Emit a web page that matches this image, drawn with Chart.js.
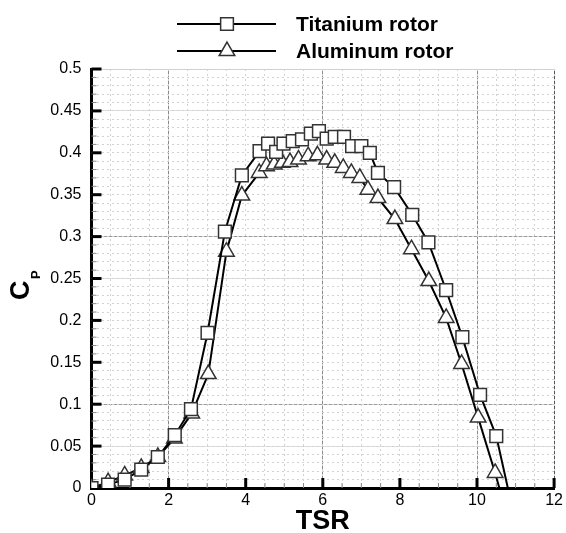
<!DOCTYPE html>
<html lang="en">
<head>
    <meta charset="UTF-8">
    <title>Cp vs TSR</title>
    <script src="https://cdn.jsdelivr.net/npm/chart.js"></script>
    <style>
        body {
            margin: 0;
            background-color: #fff;
        }

        .chart-container {
            width: 566px;
            height: 533px;
            position: relative;
        }
    </style>
</head>
<body>
    <div class="chart-container">
        <canvas id="cpChart"></canvas>
    </div>

    <script>
        const seriesNames = ['Titanium rotor', 'Aluminum rotor'];

        const tsrTitanium = [0, 0.43, 0.86, 1.29, 1.72, 2.16, 2.58, 3.01, 3.46, 3.9, 4.36, 4.58, 4.79, 4.98, 5.22, 5.46, 5.69, 5.9, 6.1, 6.31, 6.55, 6.76, 7.0, 7.22, 7.43, 7.85, 8.32, 8.74, 9.2, 9.62, 10.08, 10.5, 10.8];
        const cpTitanium = [0, 0.004, 0.01, 0.022, 0.037, 0.063, 0.094, 0.185, 0.306, 0.373, 0.402, 0.411, 0.401, 0.411, 0.414, 0.416, 0.423, 0.426, 0.417, 0.419, 0.419, 0.408, 0.408, 0.4, 0.376, 0.359, 0.326, 0.293, 0.236, 0.18, 0.111, 0.062, 0];

        const tsrAluminum = [0, 0.43, 0.86, 1.29, 1.72, 2.15, 2.6, 3.03, 3.5, 3.9, 4.35, 4.54, 4.74, 4.95, 5.15, 5.37, 5.62, 5.86, 6.1, 6.31, 6.53, 6.74, 6.96, 7.17, 7.43, 7.87, 8.3, 8.75, 9.2, 9.6, 10.03, 10.47, 10.58];
        const cpAluminum = [0, 0.007, 0.015, 0.024, 0.037, 0.059, 0.089, 0.136, 0.282, 0.349, 0.376, 0.384, 0.386, 0.388, 0.389, 0.392, 0.396, 0.397, 0.392, 0.388, 0.382, 0.376, 0.37, 0.356, 0.346, 0.321, 0.285, 0.247, 0.203, 0.148, 0.084, 0.018, 0];

        const xTickValues = [0, 2, 4, 6, 8, 10, 12];
        const yTickValues = [0, 0.05, 0.1, 0.15, 0.2, 0.25, 0.3, 0.35, 0.4, 0.45, 0.5];

        const FONT = "'Liberation Sans', Arial, Helvetica, sans-serif";
        const pointStyles = ['rect', 'triangle'];

        // the last point of each curve is only where the line meets the axis, no marker there
        const radii = arr => arr.map((_, i) => i === arr.length - 1 ? 0 : 9);

        const datasets = [
            [tsrTitanium, cpTitanium],
            [tsrAluminum, cpAluminum]
        ].map(([xs, ys], i) => ({
            label: seriesNames[i],
            data: xs.map((x, j) => ({ x: x, y: ys[j] })),
            borderColor: '#000',
            borderWidth: 2,
            pointStyle: pointStyles[i],
            pointRadius: radii(xs),
            pointBackgroundColor: '#fff',
            pointBorderColor: '#333',
            pointBorderWidth: 1.5,
            tension: 0
        }));

        // solid grid lines as they show in the picture
        function xGridColor(ctx) {
            const v = Math.round(ctx.tick.value);
            if (v === 12) return '#555';
            if (v % 4 === 2) return '#8a8a8a';
            return 'rgba(0,0,0,0)';
        }
        function yGridColor(ctx) {
            const v = Math.round(ctx.tick.value * 100);
            if (v === 10 || v === 30) return '#9a9a9a';
            if (v === 50) return '#cfcfcf';
            if (v === 5 || v === 25 || v === 45) return '#dedede';
            return 'rgba(0,0,0,0)';
        }

        const minorScale = (axis, pos, max, step) => ({
            type: 'linear',
            axis: axis,
            position: pos,
            min: 0,
            max: max,
            ticks: { display: false, stepSize: step },
            grid: { color: '#d2d2d2', lineWidth: 1, drawTicks: false, z: -1 },
            border: { display: false, dash: [2, 3] },
            afterFit: s => { if (axis === 'x') s.height = 0; else s.width = 0; }
        });

        // inward ticks, legend and the C_P label
        const decor = {
            id: 'decor',
            beforeDatasetsDraw(chart) {
                const { ctx, chartArea: a, scales } = chart;
                const seg = (x1, y1, x2, y2) => { ctx.beginPath(); ctx.moveTo(x1, y1); ctx.lineTo(x2, y2); ctx.stroke(); };
                ctx.save();
                ctx.strokeStyle = '#888';
                ctx.lineWidth = 1;
                scales.xMinor.ticks.forEach(t => {
                    const px = scales.x.getPixelForValue(t.value);
                    seg(px, a.bottom, px, a.bottom - 5);
                });
                scales.yMinor.ticks.forEach(t => {
                    const py = scales.y.getPixelForValue(t.value);
                    seg(a.left, py, a.left + 5, py);
                });
                ctx.strokeStyle = '#000';
                ctx.lineWidth = 3;
                xTickValues.forEach(v => {
                    const px = scales.x.getPixelForValue(v);
                    seg(px, a.bottom, px, a.bottom - 10);
                });
                yTickValues.forEach(v => {
                    const py = scales.y.getPixelForValue(v);
                    seg(a.left, py, a.left + 10, py);
                });
                ctx.restore();
            },
            afterDraw(chart) {
                const ctx = chart.ctx;
                ctx.save();
                // legend
                const rows = [24, 51];
                chart.data.datasets.forEach((ds, i) => {
                    const y = rows[i];
                    ctx.strokeStyle = '#000';
                    ctx.lineWidth = 2;
                    ctx.beginPath();
                    ctx.moveTo(177, y);
                    ctx.lineTo(276, y);
                    ctx.stroke();
                    ctx.fillStyle = '#fff';
                    ctx.strokeStyle = '#333';
                    ctx.lineWidth = 1.5;
                    Chart.helpers.drawPoint(ctx, { pointStyle: ds.pointStyle, radius: 9, borderWidth: 1.5, rotation: 0 }, 227, y);
                    ctx.fillStyle = '#000';
                    ctx.font = 'bold 21px ' + FONT;
                    ctx.textAlign = 'left';
                    ctx.textBaseline = 'middle';
                    ctx.fillText(ds.label, 296, y + 1);
                });
                // y axis title C with subscript P, rotated
                ctx.translate(22, 300);
                ctx.rotate(-Math.PI / 2);
                ctx.fillStyle = '#000';
                ctx.textAlign = 'left';
                ctx.textBaseline = 'middle';
                ctx.font = 'bold 27px ' + FONT;
                ctx.fillText('C', 0, 0);
                ctx.font = 'bold 13px ' + FONT;
                ctx.fillText('P', 21, 14);
                ctx.restore();
            }
        };

        const ctx = document.getElementById('cpChart').getContext('2d');
        const cpChart = new Chart(ctx, {
            type: 'line',
            data: { datasets: datasets },
            options: {
                responsive: true,
                maintainAspectRatio: false,
                animation: false,
                layout: { padding: { top: 69, right: 8, left: 0, bottom: 0 } },
                plugins: {
                    legend: { display: false },
                    tooltip: { enabled: false }
                },
                scales: {
                    x: {
                        type: 'linear',
                        position: 'bottom',
                        min: 0,
                        max: 12,
                        afterBuildTicks: s => { s.ticks = xTickValues.map(v => ({ value: v })); },
                        afterFit: s => { s.height = 45; },
                        ticks: { color: '#000', padding: 3, font: { family: FONT, size: 16 } },
                        grid: { color: xGridColor, lineWidth: 1, drawTicks: false },
                        border: { color: '#000', width: 3 },
                        title: {
                            display: true,
                            text: 'TSR',
                            color: '#000',
                            padding: { top: 0, bottom: -2 },
                            font: { family: FONT, size: 27, weight: 'bold', lineHeight: 1 }
                        }
                    },
                    y: {
                        type: 'linear',
                        position: 'left',
                        min: 0,
                        max: 0.5,
                        afterBuildTicks: s => { s.ticks = yTickValues.map(v => ({ value: v })); },
                        afterFit: s => { s.width = 91.5; },
                        ticks: {
                            color: '#000',
                            padding: 10,
                            font: { family: FONT, size: 16 },
                            callback: v => String(+v.toFixed(2))
                        },
                        grid: { color: yGridColor, lineWidth: 1, drawTicks: false },
                        border: { color: '#000', width: 3 }
                    },
                    xMinor: minorScale('x', 'bottom', 12, 0.5),
                    yMinor: minorScale('y', 'left', 0.5, 0.01)
                }
            },
            plugins: [decor]
        });
    </script>
</body>
</html>
